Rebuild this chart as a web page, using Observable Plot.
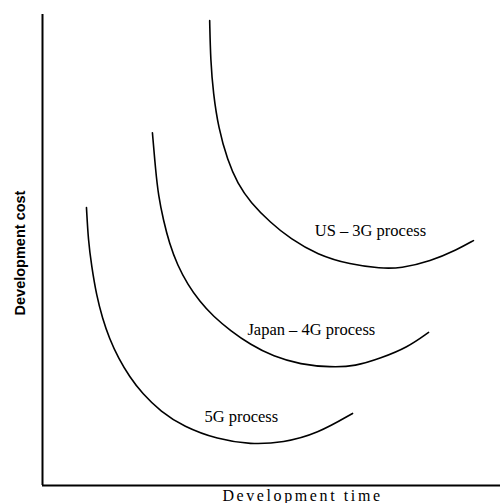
<!DOCTYPE html>
<html>
<head>
<meta charset="utf-8">
<script src="https://cdn.jsdelivr.net/npm/d3@7"></script>
<script src="https://cdn.jsdelivr.net/npm/@observablehq/plot@0.6"></script>
<style>
  html, body { margin: 0; padding: 0; background: #fff; }
  #chart svg { display: block; overflow: visible; }
</style>
</head>
<body>
<div id="chart"></div>
<script>
// Development time (x) and development cost (y), arbitrary units 0-100
const us3gTime = [36.5, 36.7, 37.3, 38.4, 40.4, 42.6, 45.4, 49.8, 54.1, 60.0, 67.2, 73.8, 78.2, 84.7, 90.6, 94.1];
const us3gCost = [98.7, 90.2, 83.2, 76.0, 69.0, 64.1, 60.1, 55.8, 52.4, 49.0, 46.9, 46.1, 46.1, 47.6, 50.1, 52.0];

const japan4gTime = [24.0, 24.7, 25.3, 26.4, 27.7, 29.5, 31.7, 34.3, 37.3, 41.0, 45.4, 50.4, 56.3, 62.9, 68.3, 73.8, 79.7, 84.3];
const japan4gCost = [74.9, 66.9, 61.6, 56.3, 51.4, 46.7, 42.7, 39.1, 35.9, 32.9, 29.9, 27.4, 25.7, 25.1, 25.3, 27.0, 29.3, 32.5];

const g5Time = [9.6, 10.0, 10.7, 11.8, 13.1, 14.6, 16.6, 19.0, 21.8, 25.8, 30.8, 38.2, 45.4, 52.6, 60.0, 67.7];
const g5Cost = [59.0, 52.0, 46.7, 40.3, 35.5, 31.2, 27.0, 23.1, 19.5, 15.7, 12.5, 9.8, 8.7, 9.1, 11.0, 15.3];

const labels = ["US \u2013 3G process", "Japan \u2013 4G process", "5G process"];
const labelTime = [71.6, 58.7, 43.4];
const labelCost = [54.1, 33.1, 14.6];

const xTitle = "Development time";
const yTitle = "Development cost";

const toRows = (name, xs, ys) => xs.map((t, i) => ({series: name, time: t, cost: ys[i]}));
const curves = [
  ...toRows(labels[0], us3gTime, us3gCost),
  ...toRows(labels[1], japan4gTime, japan4gCost),
  ...toRows(labels[2], g5Time, g5Cost)
];
const labelRows = labels.map((l, i) => ({label: l, time: labelTime[i], cost: labelCost[i]}));

const chart = Plot.plot({
  width: 500,
  height: 503,
  marginLeft: 42,
  marginRight: 0,
  marginTop: 14,
  marginBottom: 18,
  x: {domain: [0, 100], axis: null},
  y: {domain: [0, 100], axis: null},
  style: {background: "#fff", color: "#000"},
  marks: [
    Plot.ruleX([0], {stroke: "#000", strokeWidth: 2}),
    Plot.ruleY([0], {stroke: "#000", strokeWidth: 2}),
    Plot.line(curves, {x: "time", y: "cost", z: "series", curve: "basis", stroke: "#000", strokeWidth: 1.6}),
    Plot.text(labelRows, {x: "time", y: "cost", text: "label", fill: "#000", fontSize: 16.5, fontFamily: "Liberation Serif"}),
    Plot.text([xTitle], {frameAnchor: "bottom", textAnchor: "middle", text: d => d, dx: 31, dy: 15, lineAnchor: "bottom", fill: "#000", fontSize: 16, fontFamily: "Liberation Serif"}),
    Plot.text([yTitle], {frameAnchor: "left", textAnchor: "middle", text: d => d, rotate: -90, dx: -22, dy: 3, fill: "#000", fontSize: 14.5, fontWeight: "bold", fontFamily: "Liberation Sans"})
  ]
});
d3.select(chart).selectAll("text")
  .filter(function () { return this.textContent === xTitle; })
  .style("letter-spacing", "2.6px");
document.getElementById("chart").appendChild(chart);
</script>
</body>
</html>
